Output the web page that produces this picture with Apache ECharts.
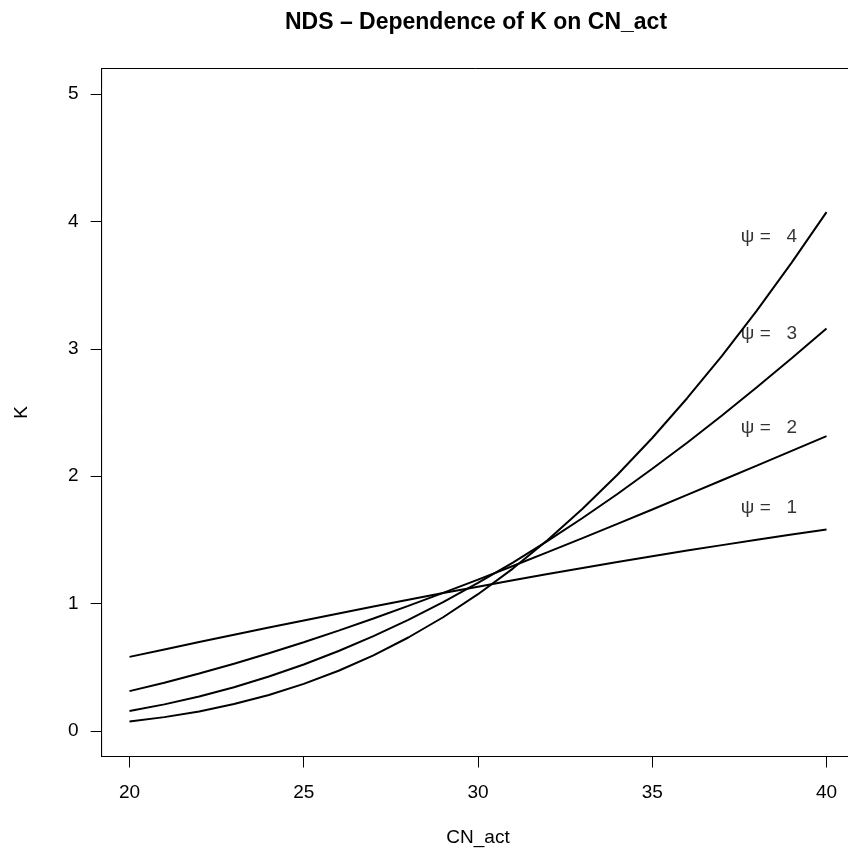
<!DOCTYPE html>
<html>
<head>
<meta charset="utf-8">
<script src="https://cdn.jsdelivr.net/npm/echarts@6/dist/echarts.min.js"></script>
<style>
  html, body { margin: 0; padding: 0; background: #fff; }
  #chart { width: 848px; height: 849px; }
</style>
</head>
<body>
<div id="chart"></div>
<script>
// CN_act values (x)
var cnAct = [20, 21, 22, 23, 24, 25, 26, 27, 28, 29, 30,
             31, 32, 33, 34, 35, 36, 37, 38, 39, 40];
// K for each psi
var kPsi1 = [0.582, 0.640, 0.698, 0.755, 0.812, 0.868, 0.923, 0.977, 1.031, 1.083, 1.133,
             1.183, 1.232, 1.280, 1.326, 1.371, 1.416, 1.459, 1.501, 1.542, 1.582];
var kPsi2 = [0.313, 0.379, 0.451, 0.528, 0.610, 0.697, 0.788, 0.883, 0.982, 1.084, 1.188,
             1.295, 1.404, 1.514, 1.626, 1.739, 1.853, 1.968, 2.083, 2.199, 2.314];
var kPsi3 = [0.157, 0.209, 0.271, 0.344, 0.428, 0.522, 0.628, 0.745, 0.873, 1.012, 1.162,
             1.322, 1.492, 1.672, 1.860, 2.058, 2.263, 2.477, 2.698, 2.925, 3.159];
var kPsi4 = [0.075, 0.109, 0.154, 0.212, 0.283, 0.370, 0.473, 0.594, 0.734, 0.893, 1.074,
             1.275, 1.499, 1.744, 2.011, 2.300, 2.612, 2.945, 3.300, 3.676, 4.073];

// curve labels
var labelText = ['ψ =   1', 'ψ =   2', 'ψ =   3', 'ψ =   4'];
var labelX = [38.35, 38.35, 38.35, 38.35];
var labelY = [1.75, 2.38, 3.12, 3.88];

// tick labels
var xTicks = [20, 25, 30, 35, 40];
var yTicks = [0, 1, 2, 3, 4, 5];

var FONT = "'Liberation Sans', Arial, Helvetica, sans-serif";

function pairs(xs, ys) {
  return xs.map(function (x, i) { return [x, ys[i]]; });
}

function curve(ys) {
  return {
    type: 'line',
    data: pairs(cnAct, ys),
    showSymbol: false,
    symbol: 'none',
    lineStyle: { color: '#000', width: 2 },
    silent: true
  };
}

var myChart = echarts.init(document.getElementById('chart'), null, { renderer: 'canvas' });

myChart.setOption({
  animation: false,
  backgroundColor: '#fff',
  textStyle: { fontFamily: FONT },
  graphic: [{
    type: 'text',
    x: 476,
    y: 23,
    style: {
      text: 'NDS \u2013 Dependence of K on CN_act',
      font: 'bold 23px ' + FONT,
      fill: '#000',
      textAlign: 'center',
      textVerticalAlign: 'middle'
    }
  }],
  grid: {
    left: 101.6,
    top: 68.5,
    width: 752.8,
    height: 688,
    show: true,
    borderColor: '#000',
    borderWidth: 1,
    containLabel: false,
    outerBoundsMode: 'none'
  },
  xAxis: {
    type: 'value',
    min: 19.2,
    max: 40.8,
    name: 'CN_act',
    nameLocation: 'middle',
    nameGap: 72,
    nameTextStyle: { color: '#000', fontSize: 19, fontFamily: FONT },
    axisLine: { show: true, onZero: false, lineStyle: { color: '#000', width: 1 } },
    axisTick: { show: true, customValues: xTicks, length: 11, inside: false,
                lineStyle: { color: '#000', width: 1 } },
    axisLabel: { show: true, customValues: xTicks, margin: 27, color: '#000',
                 fontSize: 19, fontFamily: FONT },
    splitLine: { show: false }
  },
  yAxis: {
    type: 'value',
    min: -0.2,
    max: 5.2,
    name: 'K',
    nameLocation: 'middle',
    nameGap: 70,
    nameTextStyle: { color: '#000', fontSize: 19, fontFamily: FONT },
    axisLine: { show: true, onZero: false, lineStyle: { color: '#000', width: 1 } },
    axisTick: { show: true, customValues: yTicks, length: 11, inside: false,
                lineStyle: { color: '#000', width: 1 } },
    axisLabel: { show: true, customValues: yTicks, margin: 23, color: '#000',
                 fontSize: 19, fontFamily: FONT },
    splitLine: { show: false }
  },
  series: [
    curve(kPsi1),
    curve(kPsi2),
    curve(kPsi3),
    curve(kPsi4),
    {
      type: 'scatter',
      data: pairs(labelX, labelY),
      symbolSize: 1,
      itemStyle: { color: 'rgba(0,0,0,0)' },
      silent: true,
      label: {
        show: true,
        position: 'inside',
        color: '#000',
        textBorderWidth: 0,
        fontSize: 19,
        fontFamily: FONT,
        formatter: function (p) { return labelText[p.dataIndex]; }
      }
    }
  ]
});
</script>
</body>
</html>
